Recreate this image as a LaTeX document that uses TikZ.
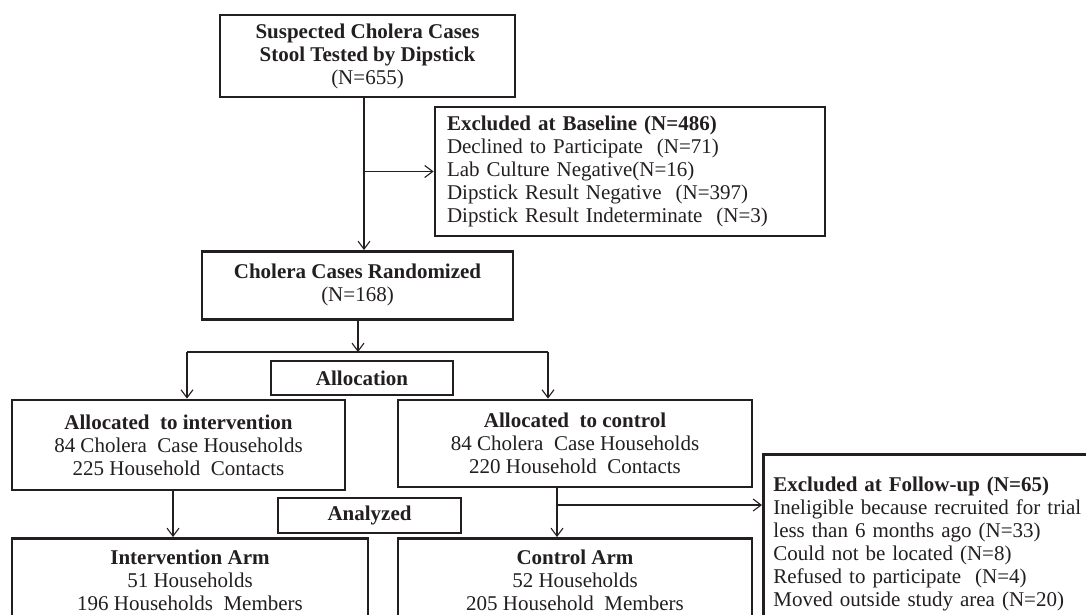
\documentclass[tikz,border=0pt]{standalone}
\usepackage{fontspec}
\setmainfont{Liberation Serif}
\usetikzlibrary{arrows.meta}
\definecolor{ink}{RGB}{35,31,32}
\begin{document}
\begin{tikzpicture}[x=1pt,y=-1pt,
  box/.style={draw=ink,line width=2.8pt,inner sep=0pt,align=center,text=ink,
    font=\fontsize{21}{23}\selectfont},
  lbox/.style={box,align=left},
  armbox/.style={box,anchor=north,minimum height=0pt,inner ysep=12pt,text depth=40pt},
  arr/.style={draw=ink,line width=1.1pt,-{Straight Barb[length=8pt,width=12pt,line width=1.1pt]}},
  ln/.style={draw=ink,line width=1.1pt}]
\useasboundingbox (0,0) rectangle (1086,614);
\fill[white] (0,0) rectangle (1086,614);
\clip (0,0) rectangle (1086,614);

\node[box,minimum width=295pt,minimum height=82pt] (top) at (367.5,56)
  {\textbf{Suspected Cholera Cases}\\\textbf{Stool Tested by Dipstick}\\(N=655)};
\node[lbox,minimum width=390pt,minimum height=129pt,text width=366pt] (base) at (630,171.5)
  {\textbf{Excluded at Baseline (N=486)}\\Declined to Participate\ \ (N=71)\\Lab Culture Negative(N=16)\\Dipstick Result Negative\ \ (N=397)\\Dipstick Result Indeterminate\ \ (N=3)};
\node[box,anchor=north,minimum width=311pt,minimum height=68pt,inner ysep=6pt] (rand) at (357.5,250)
  {\textbf{Cholera Cases Randomized}\\(N=168)};
\node[box,minimum width=182pt,minimum height=34pt] (alloc) at (362,378)
  {\textbf{Allocation}};
\node[box,minimum width=333pt,minimum height=90pt] (ai) at (178.5,445)
  {\textbf{Allocated\ \ to intervention}\\84 Cholera\ \ Case Households\\225 Household\ \ Contacts};
\node[box,minimum width=354pt,minimum height=87pt] (ac) at (575,443.5)
  {\textbf{Allocated\ \ to control}\\84 Cholera\ \ Case Households\\220 Household\ \ Contacts};
\node[box,minimum width=183pt,minimum height=35pt] (anal) at (369.5,515.5)
  {\textbf{Analyzed}};
\node[armbox,minimum width=356pt] (iarm) at (190,537)
  {\textbf{Intervention Arm}\\51 Households\\196 Households\ \ Members};
\node[armbox,minimum width=354pt] (carm) at (575,537)
  {\textbf{Control Arm}\\52 Households\\205 Household\ \ Members};
\node[lbox,anchor=north west,minimum width=340pt,minimum height=180pt,text width=320pt,inner xsep=10pt,inner ysep=19pt] (fu) at (762,453)
  {\textbf{Excluded at Follow-up (N=65)}\\Ineligible because recruited for trial\\less than 6 months ago (N=33)\\Could not be located (N=8)\\Refused to participate\ \ (N=4)\\Moved outside study area (N=20)};

\coordinate (x1) at (364,0);
\coordinate (x2) at (358,352);
\coordinate (xl) at (187,352);
\coordinate (xr) at (548,352);
\coordinate (x3) at (173,0);
\coordinate (x4) at (557,505);

\draw[arr] (top.south -| x1) -- (rand.north -| x1);
\draw[arr] (x1 |- base.west) -- (base.west);
\draw[arr] (rand.south -| x2) -- (x2);
\draw[ln] (xl) -- (xr);
\draw[arr] (xl) -- (ai.north -| xl);
\draw[arr] (xr) -- (ac.north -| xr);
\draw[arr] (ai.south -| x3) -- (iarm.north -| x3);
\draw[arr] (ac.south -| x4) -- (carm.north -| x4);
\draw[arr] (x4) -- (fu.west |- x4);
\end{tikzpicture}
\end{document}
